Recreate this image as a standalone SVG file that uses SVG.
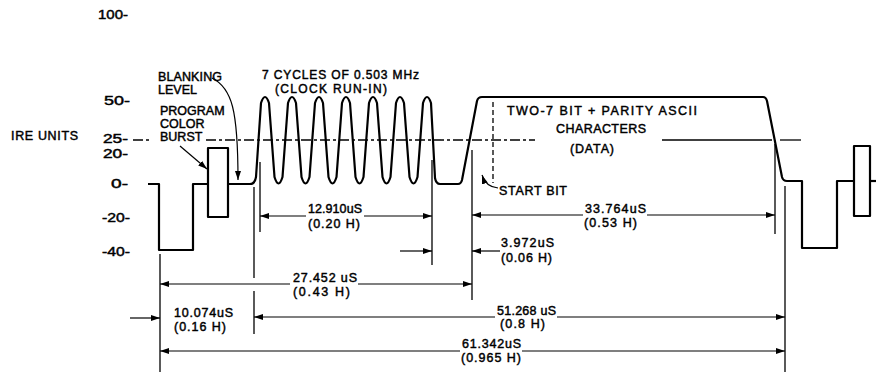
<svg xmlns="http://www.w3.org/2000/svg" width="876" height="372" viewBox="0 0 876 372">
<defs>
<marker id="ah" markerUnits="userSpaceOnUse" markerWidth="10" markerHeight="8" refX="9" refY="3.5" orient="auto">
<path d="M0,0.5 L9,3.5 L0,6.5 z" fill="#000"/>
</marker>
<style>
text{font-family:"Liberation Sans",Arial,sans-serif;font-size:12.5px;fill:#000;stroke:#000;stroke-width:0.45}
.wave{fill:none;stroke:#000;stroke-width:2.2;stroke-linejoin:round}
.dim{fill:none;stroke:#000;stroke-width:1.2}
.ext{fill:none;stroke:#000;stroke-width:1.3}
.dash{fill:none;stroke:#000;stroke-width:1.3;stroke-dasharray:10 3 3 3}
.sm{font-size:12px}
.ax{font-size:13px}
.ax2{font-size:12px}
</style>
</defs>
<rect width="876" height="372" fill="#fff"/>

<g id="axis">
<text x="11" y="140" textLength="67">IRE UNITS</text>
<text class="ax" x="98" y="19" textLength="30" lengthAdjust="spacingAndGlyphs">100-</text>
<text class="ax" x="104" y="105" textLength="26" lengthAdjust="spacingAndGlyphs">50-</text>
<text class="ax2" x="103" y="143" textLength="25" lengthAdjust="spacingAndGlyphs">25-</text>
<text class="ax2" x="103" y="158" textLength="25" lengthAdjust="spacingAndGlyphs">20-</text>
<text class="ax" x="111" y="188" textLength="17" lengthAdjust="spacingAndGlyphs">0-</text>
<text class="ax" x="102" y="222" textLength="28" lengthAdjust="spacingAndGlyphs">-20-</text>
<text class="ax" x="102" y="256" textLength="28" lengthAdjust="spacingAndGlyphs">-40-</text>
</g>

<g id="reference-25">
<line class="dash" x1="133" y1="140" x2="152" y2="140"/>
<line class="dash" x1="206" y1="140" x2="535" y2="140"/>
<line class="ext" x1="662" y1="140" x2="772" y2="140"/>
<line class="ext" x1="780" y1="140" x2="801" y2="140"/>
<line class="dash" x1="493" y1="102" x2="493" y2="183" style="stroke-dasharray:5 3"/>
</g>

<g id="waveform">
<path class="wave" d="M148,184 H159 V250 H193 V184 H208"/>
<rect class="wave" x="208" y="148" width="20" height="69"/>
<path class="wave" d="M228,184 H250 Q255,184 256,177 L261,103 Q265,91 269,103 L274.5,177 Q278.5,190 282.5,177 L288,103 Q292,91 296,103 L301.5,177 Q305.5,190 309.5,177 L315,103 Q319,91 323,103 L328.5,177 Q332.5,190 336.5,177 L342,103 Q346,91 350,103 L355.5,177 Q359.5,190 363.5,177 L369,103 Q373,91 377,103 L382.5,177 Q386.5,190 390.5,177 L396,103 Q400,91 404,103 L409.5,177 Q413.5,190 417.5,177 L423,103 Q427,91 431,103 L435,178 Q436,184 440,184 H458 Q461,184 462,180 L477,101 Q478,97 482,97 H763 Q766,97 767,101 L782,177 Q783,181 787,181 H802 V248 H837 V181 H854"/>
<rect class="wave" x="854" y="146" width="16" height="70"/>
<path class="wave" d="M870,181 H877"/>
</g>

<g id="labels">
<text x="158" y="81" textLength="64">BLANKING</text>
<text x="158" y="94">LEVEL</text>
<text x="160" y="115">PROGRAM</text>
<text x="160" y="128">COLOR</text>
<text x="160" y="141">BURST</text>
<text class="sm" x="262" y="79" textLength="157">7 CYCLES OF 0.503 MHz</text>
<text class="sm" x="275" y="93" textLength="112">(CLOCK RUN-IN)</text>
<text x="507" y="115" textLength="190">TWO-7 BIT + PARITY ASCII</text>
<text x="556" y="133" textLength="90">CHARACTERS</text>
<text x="570" y="153" textLength="44">(DATA)</text>
<text x="499" y="195" textLength="68">START BIT</text>
<path class="dim" d="M212,78 C232,88 238,110 238,180" marker-end="url(#ah)"/>
<path class="dim" d="M180,146 L207,169" marker-end="url(#ah)"/>
<path class="dim" d="M498,188 Q486,187 482,175" marker-end="url(#ah)"/>
</g>

<g id="connectors">
<line class="ext" x1="160" y1="254" x2="160" y2="372"/>
<line class="ext" x1="254" y1="187" x2="254" y2="278"/>
<line class="ext" x1="254" y1="291" x2="254" y2="334"/>
<line class="ext" x1="260" y1="162" x2="260" y2="232"/>
<line class="ext" x1="432" y1="160" x2="432" y2="265"/>
<line class="ext" x1="472" y1="150" x2="472" y2="300"/>
<line class="ext" x1="775" y1="144" x2="775" y2="234"/>
<line class="ext" x1="785" y1="186" x2="785" y2="372"/>

<line class="dim" x1="306" y1="216" x2="260" y2="216" marker-end="url(#ah)"/>
<line class="dim" x1="364" y1="216" x2="432" y2="216" marker-end="url(#ah)"/>
<line class="dim" x1="290" y1="284" x2="160" y2="284" marker-end="url(#ah)"/>
<line class="dim" x1="358" y1="284" x2="472" y2="284" marker-end="url(#ah)"/>
<line class="dim" x1="583" y1="215" x2="472" y2="215" marker-end="url(#ah)"/>
<line class="dim" x1="647" y1="215" x2="775" y2="215" marker-end="url(#ah)"/>
<line class="dim" x1="400" y1="251" x2="432" y2="251" marker-end="url(#ah)"/>
<line class="dim" x1="500" y1="251" x2="472" y2="251" marker-end="url(#ah)"/>
<line class="dim" x1="130" y1="318" x2="160" y2="318" marker-end="url(#ah)"/>
<line class="dim" x1="495" y1="317" x2="254" y2="317" marker-end="url(#ah)"/>
<line class="dim" x1="557" y1="317" x2="785" y2="317" marker-end="url(#ah)"/>
<line class="dim" x1="460" y1="351" x2="160" y2="351" marker-end="url(#ah)"/>
<line class="dim" x1="522" y1="351" x2="785" y2="351" marker-end="url(#ah)"/>
</g>

<g id="dimension-labels">
<text x="308" y="213" textLength="54">12.910uS</text>
<text x="308" y="228" textLength="52">(0.20 H)</text>
<text x="293" y="282" textLength="64">27.452 uS</text>
<text x="293" y="296" textLength="57">(0.43 H)</text>
<text x="174" y="317" textLength="59">10.074uS</text>
<text x="174" y="331" textLength="52">(0.16 H)</text>
<text x="497" y="315" textLength="59">51.268 uS</text>
<text x="500" y="328" textLength="45">(0.8 H)</text>
<text x="462" y="348" textLength="59">61.342uS</text>
<text x="461" y="362" textLength="60">(0.965 H)</text>
<text x="585" y="213" textLength="61">33.764uS</text>
<text x="584" y="227" textLength="53">(0.53 H)</text>
<text x="501" y="247" textLength="53">3.972uS</text>
<text x="501" y="262" textLength="51">(0.06 H)</text>
</g>
</svg>
